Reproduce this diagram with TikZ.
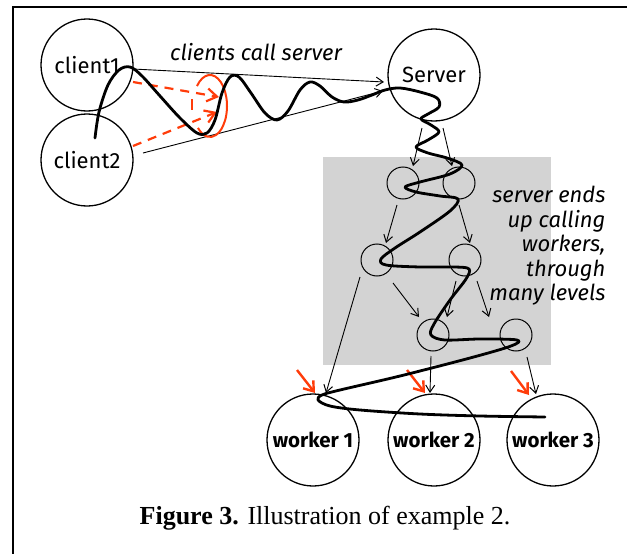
\documentclass[tikz,border=0pt]{standalone}
\usepackage{fontspec}
\setmainfont{Liberation Serif}
\newfontfamily\comic{Fira Sans}
\usetikzlibrary{arrows.meta}
\definecolor{redorange}{RGB}{255,60,10}
\definecolor{boxgray}{RGB}{211,211,211}
\tikzset{
  bignode/.style={circle,draw,line width=1.3pt,minimum size=92pt,inner sep=0pt,font=\comic\fontsize{22}{22}\selectfont},
  worknode/.style={circle,draw,line width=1.3pt,minimum size=92pt,inner sep=0pt,font=\comic\bfseries\fontsize{20.5}{20.5}\selectfont},
  smallnode/.style={circle,draw,line width=1pt,minimum size=32pt,inner sep=0pt},
  callarrow/.style={-{Straight Barb[length=7pt,width=9pt,line width=1pt]},line width=0.9pt},
  redarrow/.style={redorange,line width=2.4pt,-{Straight Barb[length=9pt,width=13pt,line width=2.4pt]}},
  reddash/.style={redorange,line width=2.2pt,dash pattern=on 9pt off 7pt,-{Straight Barb[length=10pt,width=13pt,line width=2.2pt]}},
  wave/.style={line width=2.8pt,line cap=round,line join=round},
  note/.style={font=\comic\itshape\fontsize{22}{24.5}\selectfont}
}
\begin{document}
\begin{tikzpicture}[x=1pt,y=-1pt]
\useasboundingbox (0,0) rectangle (627,554);
% frame (cut off at right and bottom)
\draw[line width=1.4pt] (13,554) -- (13,7) -- (627,7);
% gray box
\fill[boxgray] (323,157) rectangle (551,365);
% nodes
\node[bignode] (c1) at (87,65) {client1};
\node[bignode] (c2) at (87,160) {client2};
\node[bignode] (srv) at (434,75) {Server};
\node[smallnode] (a1) at (403,183) {};
\node[smallnode] (a2) at (459,183) {};
\node[smallnode] (b1) at (377,260) {};
\node[smallnode] (b2) at (465,260) {};
\node[smallnode] (d1) at (433,335) {};
\node[smallnode] (d2) at (516,335) {};
\node[worknode] (w1) at (313,440) {worker 1};
\node[worknode] (w2) at (434,440) {worker 2};
\node[worknode] (w3) at (553,440) {worker 3};
% labels
\node[note,anchor=center] (lbl1) at (256,52) {clients call server};
\node[note,align=right,anchor=north east] (lbl2) at (609,183) {server ends\\up calling\\workers,\\through\\many levels};
\node[font=\fontsize{26}{26}\selectfont] (cap) at (325,518) {\textbf{Figure 3.} Illustration of example 2.};
% client -> server arrows
\coordinate (c1e) at (133,69);
\coordinate (s1) at (384,82);
\coordinate (c2e) at (143,153);
\coordinate (s2) at (383,91);
\draw[callarrow] (c1e) -- (s1);
\draw[callarrow] (c2e) -- (s2);
% server -> level 1
\coordinate (sa) at (422,128);
\coordinate (sb) at (443,128);
\coordinate (a1t) at (413,166);
\coordinate (a2t) at (452,166);
\draw[callarrow] (sa) -- (a1t);
\draw[callarrow] (sb) -- (a2t);
% level 1 -> level 2
\coordinate (a1b) at (397,205);
\coordinate (b1t) at (386,243);
\coordinate (a2b) at (459,205);
\coordinate (b2t) at (470,243);
\draw[callarrow] (a1b) -- (b1t);
\draw[callarrow] (a2b) -- (b2t);
% level 2 -> level 3
\coordinate (b1b) at (393,283);
\coordinate (d1t) at (419,317);
\coordinate (b2b) at (456,281);
\coordinate (d1u) at (447,317);
\coordinate (b2c) at (477,281);
\coordinate (d2t) at (489,317);
\draw[callarrow] (b1b) -- (d1t);
\draw[callarrow] (b2b) -- (d1u);
\draw[callarrow] (b2c) -- (d2t);
% to workers
\coordinate (b1w) at (360,277);
\coordinate (w1t) at (326,393);
\coordinate (d1w) at (431,356);
\coordinate (w2t) at (430,393);
\coordinate (d2w) at (527,357);
\coordinate (w3t) at (536,394);
\draw[callarrow] (b1w) -- (w1t);
\draw[callarrow] (d1w) -- (w2t);
\draw[callarrow] (d2w) -- (w3t);
% red arrows at workers
\coordinate (r1) at (297,370);
\coordinate (r2) at (407,370);
\coordinate (r3) at (511,371);
\draw[redarrow] (r1) -- (315,393);
\draw[redarrow] (r2) -- (425,393);
\draw[redarrow] (r3) -- (529,395);
% red dashed arrows and ellipse
\draw[reddash] (133,82) -- (219,97);
\draw[reddash] (133,146) -- (217,112);
\coordinate (ec) at (210,106);
\draw[redorange,line width=2pt] (ec) ++(-140:17 and 31) arc[start angle=-140,end angle=135,x radius=17,y radius=31];
\draw[redorange,line width=2pt] (192,99) -- (192,110);
% the call path
\draw[wave] plot[smooth,tension=0.55] coordinates {
 (95,138) (99,112) (108,85) (119,70) (130,67) (142,76) (160,96) (180,118) (197,133) (207,133) (215,120) (222,93) (230,77) (239,77) (251,93) (265,113) (277,120) (288,111) (300,90) (310,82) (320,86) (332,97) (344,102) (358,100) (372,95) (385,90) (400,88) (420,92) (437,98) (439,107) (428,114) (421,119) (431,125) (439,132) (428,140) (416,147) (428,153) (447,158) (462,165) (450,174) (420,182) (405,187) (416,192) (440,196) (458,199) (450,211) (420,232) (395,248) (381,259) (386,265) (420,267) (455,267) (469,269) (466,279) (450,300) (434,324) (431,335) (445,340) (480,339) (517,340) (511,346) (470,358) (400,376) (340,390) (322,395) (318,400) (330,406) (360,410) (420,414) (480,416) (545,417)};
\end{tikzpicture}
\end{document}
